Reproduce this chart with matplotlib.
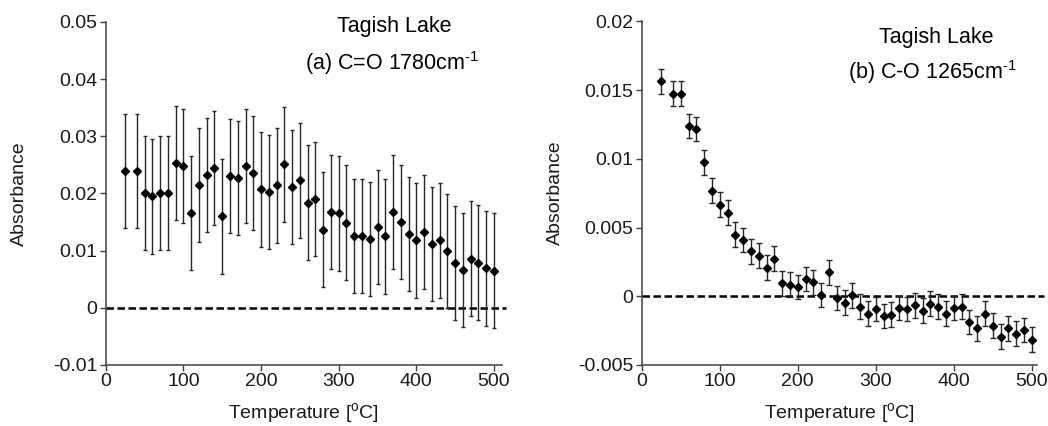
import matplotlib
matplotlib.use('Agg')
import matplotlib.pyplot as plt

# temperatures [C], same for both panels
temp = [25, 40, 50, 60, 70, 80, 90, 100, 110, 120, 130, 140, 150, 160, 170, 180,
        190, 200, 210, 220, 230, 240, 250, 260, 270, 280, 290, 300, 310, 320, 330,
        340, 350, 360, 370, 380, 390, 400, 410, 420, 430, 440, 450, 460, 470, 480,
        490, 500]

# (a) C=O 1780 cm-1
co_abs = [0.0239, 0.0239, 0.0201, 0.0195, 0.0201, 0.0201, 0.0253, 0.0248, 0.0166,
          0.0215, 0.0232, 0.0245, 0.0160, 0.0231, 0.0227, 0.0248, 0.0236, 0.0207,
          0.0203, 0.0214, 0.0251, 0.0211, 0.0223, 0.0184, 0.0190, 0.0137,
          0.0168, 0.0165, 0.0149, 0.0126, 0.0126, 0.0120, 0.0141, 0.0125, 0.0168,
          0.0150, 0.0129, 0.0118, 0.0133, 0.0112, 0.0118, 0.0099, 0.0078, 0.0066,
          0.0086, 0.0079, 0.0069, 0.0065]
co_err = [0.0100, 0.0100, 0.0100, 0.0100, 0.0100, 0.0100, 0.0100, 0.0100, 0.0100,
          0.0100, 0.0100, 0.0100, 0.0100, 0.0100, 0.0100, 0.0100, 0.0100, 0.0100,
          0.0100, 0.0100, 0.0100, 0.0100, 0.0100, 0.0100, 0.0100, 0.0100, 0.0100,
          0.0100, 0.0100, 0.0100, 0.0100, 0.0100, 0.0100, 0.0100, 0.0100, 0.0100,
          0.0100, 0.0100, 0.0100, 0.0100, 0.0100, 0.0100, 0.0100, 0.0100, 0.0100,
          0.0100, 0.0100, 0.0100]

# (b) C-O 1265 cm-1
c_o_abs = [0.01563, 0.01473, 0.01473, 0.01238, 0.01216, 0.00973, 0.00767, 0.00665,
           0.00607, 0.00449, 0.00410, 0.00328, 0.00294, 0.00209, 0.00272, 0.00095,
           0.00085, 0.00068, 0.00126, 0.00102, 0.00010, 0.00175, -0.00012, -0.00046,
           0.00007, -0.00077, -0.00128, -0.00092, -0.00143, -0.00135, -0.00085,
           -0.00092, -0.00065, -0.00106, -0.00053, -0.00077, -0.00126, -0.00085,
           -0.00077, -0.00188, -0.00234, -0.00126, -0.00215, -0.00295, -0.00234,
           -0.00273, -0.00246, -0.00316]
c_o_err = [0.0009, 0.0009, 0.0009, 0.0009, 0.0009, 0.0009, 0.0009, 0.0009, 0.0009,
           0.0009, 0.0009, 0.0009, 0.0009, 0.0009, 0.0009, 0.0009, 0.0009, 0.0009,
           0.0009, 0.0009, 0.0009, 0.0009, 0.0009, 0.0009, 0.0009, 0.0009, 0.0009,
           0.0009, 0.0009, 0.0009, 0.0009, 0.0009, 0.0009, 0.0009, 0.0009, 0.0009,
           0.0009, 0.0009, 0.0009, 0.0009, 0.0009, 0.0009, 0.0009, 0.0009, 0.0009,
           0.0009, 0.0009, 0.0009]

plt.rcParams['font.family'] = ['Liberation Sans', 'DejaVu Sans']
plt.rcParams['mathtext.fontset'] = 'custom'
plt.rcParams['mathtext.rm'] = 'Liberation Sans'
plt.rcParams['mathtext.it'] = 'Liberation Sans'
plt.rcParams['mathtext.default'] = 'regular'

fig = plt.figure(figsize=(10.48, 4.26), dpi=100)
ax1 = fig.add_axes([0.1009, 0.1432, 0.3779, 0.8052])
ax2 = fig.add_axes([0.6123, 0.1432, 0.3775, 0.8068])


def style_axis(ax, xmax, ylim, yticks, ylabels):
    for s in ['top', 'right']:
        ax.spines[s].set_visible(False)
    for s in ['left', 'bottom']:
        ax.spines[s].set_color('#404040')
        ax.spines[s].set_linewidth(1.1)
    ax.set_xlim(0, xmax)
    ax.set_ylim(*ylim)
    ax.set_xticks([0, 100, 200, 300, 400, 500])
    ax.set_yticks(yticks)
    ax.set_yticklabels(ylabels)
    ax.tick_params(direction='out', length=4, width=1, color='#404040',
                   labelsize=14, labelcolor='#1a1a1a', pad=2)
    ax.set_xlabel('Temperature [$^{o}$C]', fontsize=14, color='#1a1a1a')
    ax.xaxis.set_label_coords(0.5, -0.105)
    ax.set_ylabel('Absorbance', fontsize=14, color='#1a1a1a')
    ax.yaxis.set_label_coords(-0.196, 0.5)
    ax.hlines(0, 0, 515, colors='black', linestyles=(0, (3, 1.4)), lw=1.8, clip_on=False, zorder=1)


ax1.errorbar(temp, co_abs, yerr=co_err, fmt='D', ms=4.5, color='black', ecolor='#262626',
             elinewidth=1.0, capsize=1.6, capthick=1.0, zorder=3)
style_axis(ax1, 510, (-0.01, 0.05), [-0.01, 0, 0.01, 0.02, 0.03, 0.04, 0.05],
           ['-0.01', '0', '0.01', '0.02', '0.03', '0.04', '0.05'])
fig.text(0.376, 0.937, 'Tagish Lake', fontsize=15.5, ha='center', va='center')
fig.text(0.374, 0.852, r'(a) C=O 1780cm$^{\text{-}1}$', fontsize=15.5, ha='center', va='center')

ax2.errorbar(temp, c_o_abs, yerr=c_o_err, fmt='D', ms=4.5, color='black', ecolor='#262626',
             elinewidth=1.0, capsize=2.2, capthick=1.0, zorder=3)
style_axis(ax2, 507, (-0.005, 0.02), [-0.005, 0, 0.005, 0.01, 0.015, 0.02],
           ['-0.005', '0', '0.005', '0.01', '0.015', '0.02'])
fig.text(0.893, 0.913, 'Tagish Lake', fontsize=15.5, ha='center', va='center')
fig.text(0.890, 0.831, r'(b) C-O 1265cm$^{\text{-}1}$', fontsize=15.5, ha='center', va='center')

plt.savefig('out.png', dpi=100)
